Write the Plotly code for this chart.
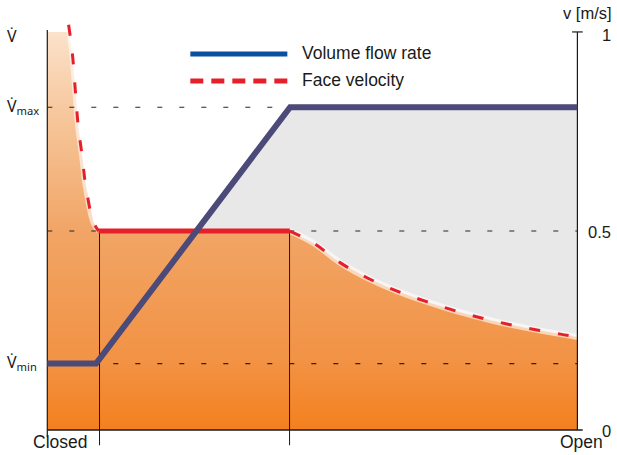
import numpy as np
import plotly.graph_objects as go

# ---------------- data ----------------
# valve opening in % (0 = Closed, 100 = Open), face velocity in m/s
flow_x = [0, 9.2, 45.8, 100]
flow_v = [0.167, 0.167, 0.811, 0.811]          # volume flow rate (drawn on v-scale)

face_closing_x = [4.02, 4.72, 5.28, 5.85, 6.60, 7.17, 8.68, 9.68]
face_closing_v = [1.018, 0.947, 0.854, 0.761, 0.686, 0.621, 0.523, 0.5]
face_const_x = [9.68, 45.75]
face_const_v = [0.5, 0.5]
face_opening_x = [45.75, 50.2, 55.3, 60.4, 66.0, 71.7, 77.9, 84.2, 90.6, 96.8, 100]
face_opening_v = [0.5, 0.470, 0.420, 0.382, 0.349, 0.322, 0.296, 0.274, 0.256, 0.241, 0.234]

vmin_level = 0.167
vmax_level = 0.811
ref_levels = [vmax_level, 0.5, vmin_level]
control_x = [9.85, 45.7]                       # start / end of control range

v_ticks = [0, 0.5, 1]
v_tick_labels = ["0", "0.5", "1"]
x_cat_pos = [0, 100]
x_cat_labels = ["Closed", "Open"]
legend_names = ["Volume flow rate", "Face velocity"]

# ---------------- layout geometry ----------------
W, H = 617, 455
ML, MR, MT, MB = 41.7, 29.4, 20.06, 7.1
XR = [-1, 102]
YR = [-0.045, 1.03]
PW = W - ML - MR
PH = H - MT - MB


def px_to_paper_x(px):
    return (px - ML) / PW


def px_to_paper_y(py):
    return (H - MB - py) / PH


FONT = "Liberation Sans, Arial, Helvetica, sans-serif"
VFONT = "Noto Sans, DejaVu Sans, sans-serif"
FLOW_COL = "#4B4A78"
RED = "#E5202A"
AX_COL = "#1a1a1a"

face_all_x = face_closing_x + face_const_x[1:] + face_opening_x[1:]
face_all_v = face_closing_v + face_const_v[1:] + face_opening_v[1:]
fill_x = [0] + face_all_x
fill_v = [1.0] + list(np.minimum(face_all_v, 1.0))

fig = go.Figure()

# invisible flow path as base for the grey area
fig.add_trace(go.Scatter(x=flow_x, y=flow_v, mode="lines", line=dict(width=0),
                         hoverinfo="skip", showlegend=False))
# grey area between flow rate and face velocity
fig.add_trace(go.Scatter(x=fill_x, y=fill_v, mode="lines", line=dict(width=0),
                         fill="tonexty", fillcolor="#E8E8E8",
                         hoverinfo="skip", showlegend=False))
# orange gradient below face velocity
fig.add_trace(go.Scatter(x=fill_x, y=fill_v, mode="lines", line=dict(width=0),
                         fill="tozeroy",
                         fillgradient=dict(type="vertical", start=0, stop=1,
                                           colorscale=[[0, "#F4801E"], [0.17, "#F29244"],
                                                       [0.5, "#F1A566"], [0.81, "#F7C9A0"],
                                                       [1, "#FBE2CB"]]),
                         hoverinfo="skip", showlegend=False))

# soft light edge along the face-velocity boundary
for fx, fv in [(face_closing_x, face_closing_v), (face_opening_x, face_opening_v)]:
    fig.add_trace(go.Scatter(x=fx, y=fv, mode="lines",
                             line=dict(color="rgba(255,255,255,0.6)", width=6, shape="spline"),
                             hoverinfo="skip", showlegend=False))

# dashed reference lines
for lv in ref_levels:
    fig.add_trace(go.Scatter(x=[0, 100], y=[lv, lv], mode="lines",
                             line=dict(color="#262626", width=1.1, dash="5px,17px"),
                             hoverinfo="skip", showlegend=False))

# vertical markers of the control range
for cx in control_x:
    fig.add_trace(go.Scatter(x=[cx, cx], y=[0.5, -0.038], mode="lines",
                             line=dict(color=AX_COL, width=1),
                             hoverinfo="skip", showlegend=False))

# axes drawn as lines
fig.add_trace(go.Scatter(x=[0, 0], y=[-0.018, 1.005], mode="lines",
                         line=dict(color=AX_COL, width=1.2), hoverinfo="skip", showlegend=False))
fig.add_trace(go.Scatter(x=[0, 101], y=[0, 0], mode="lines",
                         line=dict(color=AX_COL, width=1.5), hoverinfo="skip", showlegend=False))
fig.add_trace(go.Scatter(x=[100, 100], y=[0, 1], mode="lines",
                         line=dict(color=AX_COL, width=1.2), hoverinfo="skip", showlegend=False))
fig.add_trace(go.Scatter(x=[99, 101], y=[1, 1], mode="lines",
                         line=dict(color=AX_COL, width=1.2), hoverinfo="skip", showlegend=False))

# face velocity
fig.add_trace(go.Scatter(x=face_closing_x, y=face_closing_v, mode="lines",
                         line=dict(color=RED, width=3, dash="11px,18px", shape="spline"),
                         hoverinfo="skip", showlegend=False))
fig.add_trace(go.Scatter(x=face_opening_x, y=face_opening_v, mode="lines",
                         line=dict(color=RED, width=3, dash="11px,18px", shape="spline"),
                         hoverinfo="skip", showlegend=False))
fig.add_trace(go.Scatter(x=face_const_x, y=face_const_v, mode="lines",
                         line=dict(color=RED, width=4.8),
                         hoverinfo="skip", showlegend=False))
# volume flow rate
fig.add_trace(go.Scatter(x=flow_x, y=flow_v, mode="lines",
                         line=dict(color=FLOW_COL, width=6),
                         hoverinfo="skip", showlegend=False))

annotations = []
# right tick labels
for tv, tl in zip(v_ticks, v_tick_labels):
    annotations.append(dict(x=px_to_paper_x(613), xref="paper", y=tv, yref="y",
                            yshift=-3 if tv == 1 else -1,
                            text=tl, showarrow=False, xanchor="right", yanchor="middle",
                            font=dict(size=16.5, color=AX_COL, family=FONT)))
annotations.append(dict(x=px_to_paper_x(614), xref="paper", y=px_to_paper_y(13), yref="paper",
                        text="v [m/s]", showarrow=False, xanchor="right", yanchor="middle",
                        font=dict(size=16.5, color=AX_COL, family=FONT)))
# bottom labels
for cx, cl, px in zip(x_cat_pos, x_cat_labels, [60, 581]):
    annotations.append(dict(x=px_to_paper_x(px), xref="paper", y=px_to_paper_y(442), yref="paper",
                            text=cl, showarrow=False, xanchor="center", yanchor="middle",
                            font=dict(size=17.5, color=AX_COL, family=FONT)))
# left V labels
annotations.append(dict(x=px_to_paper_x(5), xref="paper", y=px_to_paper_y(36), yref="paper",
                        text="V\u0307", showarrow=False, xanchor="left", yanchor="middle",
                        font=dict(size=16, color=AX_COL, family=VFONT)))
annotations.append(dict(x=px_to_paper_x(5), xref="paper", y=vmax_level, yref="y", yshift=1,
                        text="V\u0307<sub>max</sub>", showarrow=False, xanchor="left", yanchor="middle",
                        font=dict(size=16, color=AX_COL, family=VFONT)))
annotations.append(dict(x=px_to_paper_x(5), xref="paper", y=vmin_level, yref="y", yshift=1,
                        text="V\u0307<sub>min</sub>", showarrow=False, xanchor="left", yanchor="middle",
                        font=dict(size=16, color=AX_COL, family=VFONT)))
# legend
for i, name in enumerate(legend_names):
    annotations.append(dict(x=px_to_paper_x(300), xref="paper", y=px_to_paper_y(53 + 27 * i),
                            yref="paper", text=name, showarrow=False, xanchor="left",
                            yanchor="middle", font=dict(size=17.5, color=AX_COL, family=FONT)))

shapes = [
    dict(type="line", xref="paper", yref="paper",
         x0=px_to_paper_x(190), x1=px_to_paper_x(287),
         y0=px_to_paper_y(54), y1=px_to_paper_y(54),
         line=dict(color="#0A50A0", width=5)),
    dict(type="line", xref="paper", yref="paper",
         x0=px_to_paper_x(190), x1=px_to_paper_x(287),
         y0=px_to_paper_y(81), y1=px_to_paper_y(81),
         line=dict(color=RED, width=5, dash="13px,8px")),
]

fig.update_layout(
    width=W, height=H,
    margin=dict(l=ML, r=MR, t=MT, b=MB, pad=0),
    paper_bgcolor="white", plot_bgcolor="white",
    xaxis=dict(range=XR, visible=False, fixedrange=True),
    yaxis=dict(range=YR, visible=False, fixedrange=True),
    annotations=annotations, shapes=shapes,
    showlegend=False,
)

fig.write_html("out.html", config={"displayModeBar": False},
               post_script="document.body.style.margin='0';")
